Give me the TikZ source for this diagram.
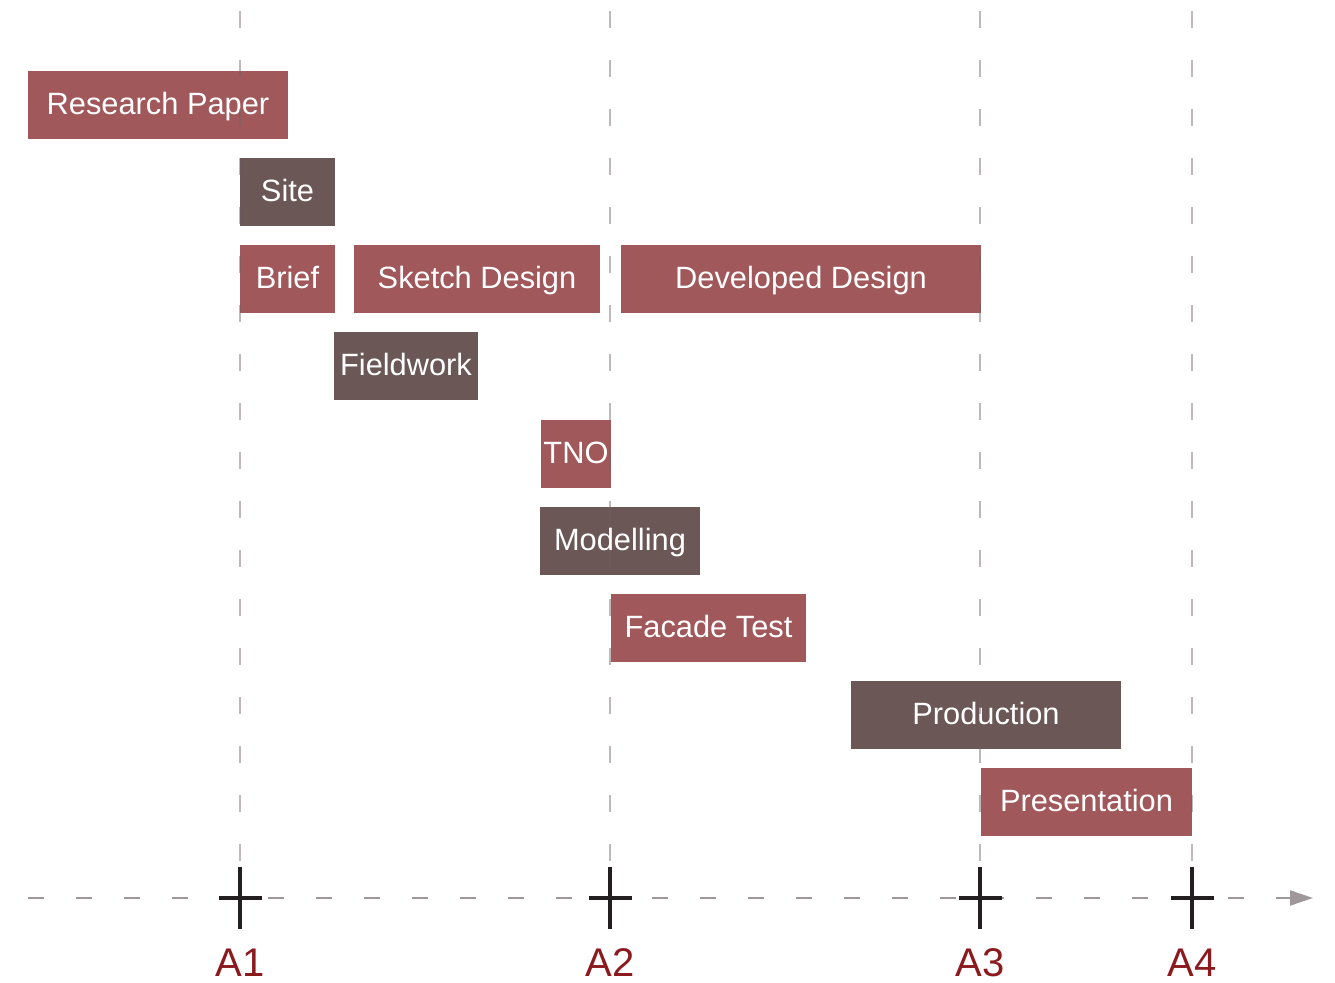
\documentclass[tikz,border=0pt]{standalone}
\usepackage{fontspec}
\setmainfont{Liberation Sans}
\usetikzlibrary{arrows.meta}
\definecolor{barred}{HTML}{A0585B}
\definecolor{bargrey}{HTML}{6B5756}
\definecolor{gridgrey}{HTML}{6E6264}
\definecolor{axisgrey}{HTML}{A0979A}
\definecolor{crossblk}{HTML}{231F20}
\definecolor{labred}{HTML}{8B1A1E}

\begin{document}
\begin{tikzpicture}[x=0.5pt,y=-0.5pt,
  task/.style={fill=barred,text=white,inner sep=0pt,minimum height=34pt,
    text height=12pt,text depth=2pt,font=\fontsize{15.4}{18}\selectfont},
  taskG/.style={task,fill=bargrey},
  grid/.style={gridgrey,opacity=0.45,line width=0.8pt,dash pattern=on 8.5pt off 16pt},
  cross/.style={crossblk,line width=2pt},
  mlab/.style={text=labred,font=\fontsize{20}{24}\selectfont}]
\useasboundingbox (0,0) rectangle (1335,983);
% task bars: left/right edge, top, style, name, label
\foreach \xa/\xb/\y/\st/\nm/\txt in {
  28/288/71/task/paper/{Research Paper},
  240/335/158/taskG/site/{Site},
  240/335/245/task/brief/{Brief},
  354/600/245/task/sketch/{Sketch Design},
  621/981/245/task/developed/{Developed Design},
  334/478/332/taskG/fieldwork/{Fieldwork},
  541/611/420/task/tno/{TNO},
  540/700/507/taskG/modelling/{Modelling},
  611/806/594/task/facade/{Facade Test},
  851/1121/681/taskG/production/{Production},
  981/1192/768/task/presentation/{Presentation}}{
  \pgfmathsetmacro\w{(\xb-\xa)*0.5}
  \node[\st,minimum width=\w pt] (\nm) at ({(\xa+\xb)/2},{\y+34}) {\txt};
}
% milestones on the time axis
\foreach \x/\nm in {240/A1,610/A2,980/A3,1192/A4}{
  \coordinate (m\nm) at (\x,898);
  \draw[grid] (\x,11) -- (\x,866);
  \node[mlab] (l\nm) at (\x,963) {\nm};
}
\coordinate (axstart) at (28,898);
\coordinate (axend) at (1313,898);
\draw[axisgrey,line width=1pt,dash pattern=on 8pt off 16pt,
  -{Triangle[length=11.5pt,width=7.5pt,fill=axisgrey]}] (axstart) -- (axend);
\foreach \nm in {A1,A2,A3,A4}{
  \draw[cross] ([yshift=15.5pt]m\nm) -- ([yshift=-15.5pt]m\nm);
  \draw[cross] ([xshift=-10.75pt]m\nm) -- ([xshift=10.75pt]m\nm);
}
\end{tikzpicture}
\end{document}
